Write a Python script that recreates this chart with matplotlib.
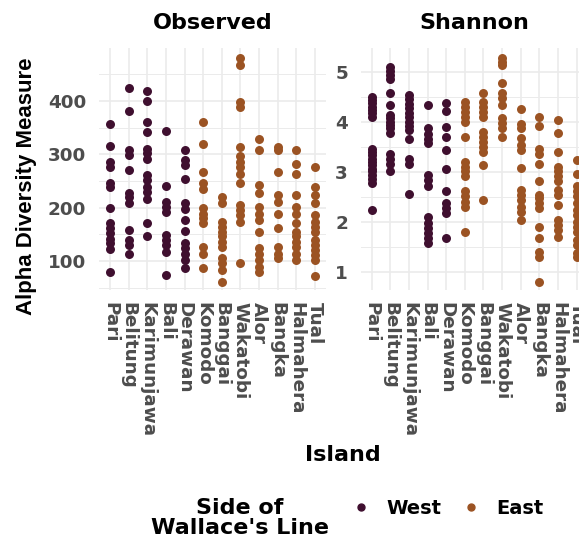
import matplotlib
matplotlib.use("Agg")
import matplotlib.pyplot as plt
from matplotlib.lines import Line2D

# islands in plot order and their side of Wallace's line
islands = ["Pari", "Belitung", "Karimunjawa", "Bali", "Derawan", "Komodo",
           "Banggai", "Wakatobi", "Alor", "Bangka", "Halmahera", "Tual"]
sides = ["West"] * 5 + ["East"] * 7
side_colors = {"West": "#3f0f2f", "East": "#9b5323"}

# Observed richness per island
obs_pari = [357, 316, 286, 276, 247, 239, 199, 171, 161, 152, 142, 133, 122, 80]
obs_belitung = [424, 382, 308, 299, 271, 228, 221, 209, 158, 139, 130, 114]
obs_karimunjawa = [418, 400, 361, 342, 311, 302, 292, 261, 252, 239, 230, 217, 171, 146]
obs_bali = [344, 241, 211, 202, 192, 149, 139, 130, 117, 74]
obs_derawan = [309, 289, 280, 253, 208, 197, 177, 157, 133, 124, 114, 102, 86]
obs_komodo = [361, 319, 267, 246, 236, 199, 189, 180, 171, 127, 114, 87]
obs_banggai = [221, 208, 174, 164, 155, 146, 136, 127, 105, 96, 83, 61]
obs_wakatobi = [480, 467, 399, 389, 314, 297, 286, 276, 264, 246, 205, 196, 186, 174, 96]
obs_alor = [328, 309, 242, 227, 202, 189, 177, 155, 124, 114, 102, 89, 80]
obs_bangka = [314, 308, 267, 224, 211, 189, 161, 127, 114, 105]
obs_halmahera = [309, 282, 264, 224, 202, 189, 171, 155, 146, 136, 127, 114, 102]
obs_tual = [277, 239, 224, 208, 186, 174, 164, 155, 139, 130, 121, 111, 102, 71]

# Shannon diversity per island
sha_pari = [4.51, 4.44, 4.38, 4.31, 4.24, 4.18, 4.10, 3.47, 3.41, 3.34, 3.27, 3.21,
            3.14, 3.07, 3.01, 2.94, 2.85, 2.77, 2.24]
sha_belitung = [5.11, 5.03, 4.95, 4.86, 4.58, 4.34, 4.14, 4.08, 4.01, 3.94, 3.88,
                3.78, 3.37, 3.27, 3.17, 3.01]
sha_karimunjawa = [4.55, 4.46, 4.36, 4.28, 4.19, 4.10, 4.01, 3.92, 3.84, 3.66, 3.27, 3.17, 2.56]
sha_bali = [4.34, 3.88, 3.76, 3.66, 3.58, 2.94, 2.84, 2.71, 2.10, 1.98, 1.87, 1.77, 1.67, 1.57]
sha_derawan = [4.38, 4.22, 3.91, 3.71, 3.44, 3.07, 2.61, 2.37, 2.27, 2.17, 1.67]
sha_komodo = [4.41, 4.31, 4.21, 4.11, 4.01, 3.71, 3.21, 3.11, 3.01, 2.91, 2.61, 2.51,
              2.40, 2.30, 1.80]
sha_banggai = [4.58, 4.41, 4.31, 4.21, 4.11, 3.81, 3.71, 3.61, 3.51, 3.41, 3.14, 2.44]
sha_wakatobi = [5.28, 5.21, 5.15, 4.79, 4.58, 4.48, 4.34, 4.08, 3.98, 3.88, 3.71]
sha_alor = [4.26, 3.96, 3.88, 3.68, 3.54, 3.44, 3.09, 2.64, 2.54, 2.44, 2.30, 2.20, 2.04]
sha_bangka = [4.11, 3.92, 3.47, 3.36, 3.17, 2.81, 2.54, 2.47, 2.37, 2.27, 1.90, 1.67,
              1.40, 1.30, 0.80]
sha_halmahera = [4.04, 3.79, 3.41, 3.11, 3.01, 2.91, 2.81, 2.64, 2.54, 2.34, 2.04,
                 1.94, 1.84, 1.70]
sha_tual = [3.25, 2.95, 2.71, 2.61, 2.51, 2.37, 2.24, 2.14, 2.00, 1.90, 1.80, 1.64,
            1.54, 1.37, 1.30]

observed = [obs_pari, obs_belitung, obs_karimunjawa, obs_bali, obs_derawan, obs_komodo,
            obs_banggai, obs_wakatobi, obs_alor, obs_bangka, obs_halmahera, obs_tual]
shannon = [sha_pari, sha_belitung, sha_karimunjawa, sha_bali, sha_derawan, sha_komodo,
           sha_banggai, sha_wakatobi, sha_alor, sha_bangka, sha_halmahera, sha_tual]

W, H = 579, 540
fig = plt.figure(figsize=(W / 100, H / 100), dpi=100)
plt.rcParams["font.family"] = "DejaVu Sans"

grid_col = "#ebebeb"
tick_col = "#4d4d4d"


def px_axes(x0, x1, y0, y1):
    # pixel box (from top-left) -> figure axes
    return fig.add_axes([x0 / W, 1 - y1 / H, (x1 - x0) / W, (y1 - y0) / H])


panels = [
    ("Observed", observed, px_axes(98.8, 326.2, 48, 290), (45.6, 499.6),
     [100, 200, 300, 400], [50, 150, 250, 350, 450]),
    ("Shannon", shannon, px_axes(360.5, 587.7, 48, 290), (0.633, 5.487),
     [1, 2, 3, 4, 5], [1.5, 2.5, 3.5, 4.5]),
]

for title, data, ax, ylim, major, minor in panels:
    for i, vals in enumerate(data):
        ax.scatter([i] * len(vals), vals, s=42, color=side_colors[sides[i]],
                   linewidths=0, zorder=3)
    ax.set_xlim(-0.6, len(islands) - 0.4)
    ax.set_ylim(*ylim)
    ax.set_xticks(range(len(islands)))
    ax.set_xticklabels(islands, rotation=-90, va="top", ha="center")
    ax.set_yticks(major)
    ax.set_yticks(minor, minor=True)
    ax.grid(True, which="major", color=grid_col, linewidth=1.2, zorder=0)
    ax.grid(True, which="minor", axis="y", color=grid_col, linewidth=0.7, zorder=0)
    ax.set_axisbelow(True)
    for s in ax.spines.values():
        s.set_visible(False)
    ax.tick_params(which="both", length=0, labelsize=13.2, labelcolor=tick_col, pad=9)
    for lab in ax.get_xticklabels() + ax.get_yticklabels():
        lab.set_fontweight("bold")
    ax.set_title(title, fontsize=16, fontweight="bold", pad=14)

fig.text(26.7 / W, 1 - 186 / H, "Alpha Diversity Measure", rotation=90,
         ha="center", va="center", fontsize=16, fontweight="bold",
         family="Liberation Sans")
fig.text(343 / W, 1 - 455 / H, "Island", ha="center", va="center",
         fontsize=16, fontweight="bold")

# legend
fig.text(240 / W, 1 - 518 / H, "Side of\nWallace's Line", ha="center", va="center",
         fontsize=16, fontweight="bold", linespacing=1.05)
handles = [Line2D([], [], marker="o", linestyle="", markersize=5,
                  color=side_colors[k]) for k in ["West", "East"]]
fig.legend(handles, ["West", "East"], loc="center left",
           bbox_to_anchor=(332 / W, 1 - 508 / H), ncol=2, frameon=False,
           prop={"weight": "bold", "size": 14}, handletextpad=0.7,
           columnspacing=0.9, handlelength=1.2)

fig.savefig("out.png", dpi=100)
